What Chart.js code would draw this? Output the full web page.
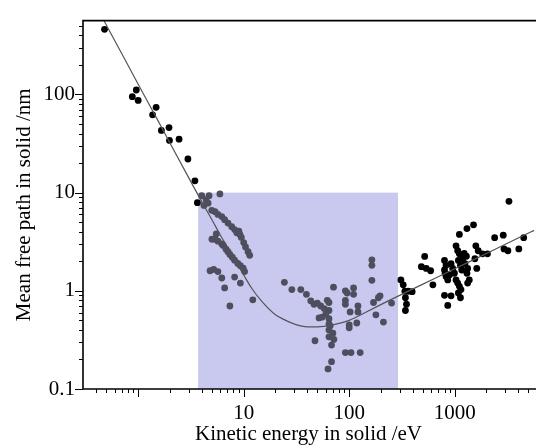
<!DOCTYPE html>
<html>
<head>
    <title>Mean free path vs kinetic energy</title>
    <script src="https://cdn.jsdelivr.net/npm/chart.js@4.4.0/dist/chart.umd.min.js"></script>
    <style>
        body {
            margin: 0;
            background: white;
        }
        .chart-box {
            width: 538px;
            height: 445px;
            position: relative;
        }
    </style>
</head>
<body>
    <div class="chart-box">
        <canvas id="mfpChart"></canvas>
    </div>

    <script>
        // measured points outside the shaded window (black)
        const blackEnergy = [0.48, 0.96, 0.88, 1.0, 1.48, 1.37, 1.96, 1.66, 1.98, 2.44, 2.96, 3.45, 3.64,
            309, 325, 337, 362, 395, 341, 349, 341,
            519, 483, 537, 591, 621,
            800, 828, 800, 811, 828, 859, 891,
            923, 957, 993, 1029, 1067,
            1029, 1067, 1107, 1083, 1133, 1165,
            1107, 1306, 1507,
            1189, 1251, 1325, 1306, 1374,
            1107, 1146, 1083, 1133,
            800, 923, 859, 1325, 1230, 1290,
            1585, 1669, 1832, 2042, 1618, 1552,
            2390, 2884, 2930, 3192, 4050, 3266, 4506];
        const blackPath = [460, 111, 95, 87, 74, 62, 46, 43, 34, 35, 22, 13.2, 7.9,
            1.29, 1.15, 0.99, 0.99, 0.98, 0.85, 0.73, 0.63,
            2.24, 1.76, 1.69, 1.6, 1.15,
            2.04, 1.82, 1.63, 1.51, 1.40, 1.29, 1.45,
            1.89, 1.69, 1.51, 1.29, 1.2,
            2.87, 2.56, 2.38, 2.04, 1.82, 1.63,
            3.75, 4.3, 4.7,
            2.12, 1.89, 1.69, 1.51, 1.29,
            1.11, 1.03, 0.95, 0.85,
            0.9, 0.89, 0.71, 1.2, 2.4, 2.25,
            2.87, 2.56, 2.38, 2.38, 1.69, 2.12,
            3.48, 3.69, 2.67, 2.56, 2.67, 8.15, 3.48];

        // measured points inside the shaded window (grey)
        const greyEnergy = [4.0, 4.4, 4.7, 5.95, 4.2, 4.6,
            4.98, 5.35, 5.7, 6.2, 6.6, 7.1, 7.7, 8.2, 8.6, 9.2, 9.5, 10, 10.4, 11, 11.4, 9.0,
            5.0, 5.35, 5.7, 6.2, 6.4, 6.8, 7.1, 7.4, 7.8, 8.2, 8.8, 9.3, 9.9, 10.2, 5.5,
            4.8, 5.2, 5.7, 6.2, 8.2, 6.6, 9.3, 12.2, 7.4,
            24.3, 28.6, 34.8, 39.3, 71, 92, 110, 164, 164, 164, 189,
            43.2, 46.4, 49.9, 53.7, 51.8, 55.6,
            64.3, 64.3, 64.3, 64.3, 64.3, 64.3, 60, 66, 70, 58, 62,
            71.5, 68, 47.4, 68, 63, 92, 104, 127,
            95.6, 110, 92, 92, 102, 100, 100, 121, 121, 118,
            170, 196, 179, 211, 252];
        const greyPath = [9.3, 8.5, 9.3, 9.7, 7.4, 7.8,
            6.6, 6.4, 6.0, 5.7, 5.3, 4.9, 4.5, 4.2, 3.9, 3.75, 3.5, 3.1, 2.8, 2.5, 2.3, 4.05,
            3.35, 3.35, 3.2, 3.0, 2.9, 2.65, 2.5, 2.35, 2.2, 2.05, 1.9, 1.8, 1.7, 1.57, 3.8,
            1.6, 1.65, 1.57, 1.35, 1.38, 1.07, 1.2, 0.81, 0.70,
            1.22, 1.03, 1.03, 0.92, 1.09, 1.0, 1.07, 2.07, 1.82, 1.28, 0.85,
            0.79, 0.73, 0.75, 0.70, 0.53, 0.54,
            0.76, 0.63, 0.52, 0.46, 0.40, 0.34, 0.58, 0.44, 0.37, 0.66, 0.80,
            0.32, 0.28, 0.31, 0.19, 0.16, 0.235, 0.235, 0.235,
            0.95, 0.92, 0.80, 0.73, 0.61, 0.45, 0.42, 0.70, 0.61, 0.47,
            0.76, 0.89, 0.57, 0.48, 0.75];

        // fitted "universal curve"
        const curveEnergy = [0.45, 0.7, 1, 1.5, 2, 3, 4, 5, 6, 7, 8, 10, 12, 15, 20, 25, 30, 40, 50, 70,
            100, 150, 235, 500, 1000, 2000, 4000, 6000];
        const curvePath = [627, 260, 127, 57, 32, 14.3, 8.1, 5.3, 3.7, 2.8, 2.2, 1.45, 1.05, 0.77, 0.57, 0.5,
            0.46, 0.43, 0.43, 0.45, 0.5, 0.62, 0.79, 1.17, 1.68, 2.4, 3.45, 4.25];

        // shaded energy window
        const shadeEnergy = [3.7, 290];
        const shadeTop = 10;

        const xRange = [0.308, 5640];
        const yRange = [0.1, 565];
        const xTickValues = [1, 10, 100, 1000];
        const xTickLabels = ['', '10', '100', '1000'];
        const yTickValues = [0.1, 1, 10, 100];
        const yTickLabels = ['0.1', '1', '10', '100'];

        const toPoints = (xs, ys) => xs.map((x, i) => ({x: x, y: ys[i]}));

        function minorTicks(min, max) {
            const out = [];
            for (let p = -2; p <= 4; p++) {
                for (let k = 1; k <= 9; k++) {
                    const v = k * Math.pow(10, p);
                    if (v >= min && v <= max) out.push({v: v, major: k === 1});
                }
            }
            return out;
        }

        const axesPlugin = {
            id: 'axesPlugin',
            beforeDatasetsDraw(chart) {
                const {ctx, scales: {x, y}} = chart;
                const left = x.getPixelForValue(shadeEnergy[0]);
                const right = x.getPixelForValue(shadeEnergy[1]);
                const top = y.getPixelForValue(shadeTop);
                const bottom = y.getPixelForValue(yRange[0]);
                ctx.save();
                ctx.fillStyle = '#c9c9f0';
                ctx.fillRect(left, top, right - left, bottom - top);
                ctx.restore();
            },
            afterDraw(chart) {
                const {ctx, chartArea: a, scales: {x, y}} = chart;
                ctx.save();
                ctx.strokeStyle = '#000';
                ctx.lineWidth = 1;
                ctx.beginPath();
                minorTicks(yRange[0], yRange[1]).forEach(t => {
                    const py = Math.round(y.getPixelForValue(t.v)) + 0.5;
                    ctx.moveTo(a.left, py);
                    ctx.lineTo(a.left - (t.major ? 8 : 4), py);
                });
                minorTicks(xRange[0], xRange[1]).forEach(t => {
                    const px = Math.round(x.getPixelForValue(t.v)) + 0.5;
                    ctx.moveTo(px, a.bottom);
                    ctx.lineTo(px, a.bottom + (t.major ? 8 : 4));
                });
                ctx.stroke();

                // frame: left, bottom, top
                ctx.lineWidth = 1.6;
                ctx.beginPath();
                ctx.moveTo(a.right + 2, a.top);
                ctx.lineTo(a.left, a.top);
                ctx.lineTo(a.left, a.bottom);
                ctx.lineTo(a.right + 2, a.bottom);
                ctx.stroke();
                ctx.restore();
            }
        };

        const serif = 'Liberation Serif';

        new Chart(document.getElementById('mfpChart'), {
            type: 'scatter',
            data: {
                datasets: [
                    {
                        label: 'fit',
                        type: 'line',
                        data: toPoints(curveEnergy, curvePath),
                        borderColor: '#555',
                        borderWidth: 1.2,
                        pointRadius: 0,
                        cubicInterpolationMode: 'monotone',
                        fill: false,
                        order: 0
                    },
                    {
                        label: 'window',
                        data: toPoints(greyEnergy, greyPath),
                        backgroundColor: '#4e4e5e',
                        borderWidth: 0,
                        pointRadius: 3.4,
                        order: 1
                    },
                    {
                        label: 'outside',
                        data: toPoints(blackEnergy, blackPath),
                        backgroundColor: '#000',
                        borderWidth: 0,
                        pointRadius: 3.4,
                        order: 1
                    }
                ]
            },
            options: {
                responsive: true,
                maintainAspectRatio: false,
                animation: false,
                events: [],
                layout: {
                    padding: {top: 10, right: 1, left: 0, bottom: 0}
                },
                plugins: {
                    legend: {display: false},
                    tooltip: {enabled: false}
                },
                scales: {
                    x: {
                        type: 'logarithmic',
                        min: xRange[0],
                        max: xRange[1],
                        grid: {display: false, drawTicks: false},
                        border: {display: false},
                        afterBuildTicks: s => { s.ticks = xTickValues.map(v => ({value: v})); },
                        afterFit: s => { s.height = 56; },
                        ticks: {
                            autoSkip: false,
                            maxRotation: 0,
                            padding: 12,
                            color: '#000',
                            font: {family: serif, size: 21},
                            callback: (v) => xTickLabels[xTickValues.indexOf(v)] ?? ''
                        },
                        title: {
                            display: true,
                            text: 'Kinetic energy in solid /eV',
                            color: '#000',
                            font: {family: serif, size: 21, lineHeight: 1},
                            padding: {top: 0, bottom: 0}
                        }
                    },
                    y: {
                        type: 'logarithmic',
                        min: yRange[0],
                        max: yRange[1],
                        grid: {display: false, drawTicks: false},
                        border: {display: false},
                        afterBuildTicks: s => { s.ticks = yTickValues.map(v => ({value: v})); },
                        afterFit: s => { s.width = 83; },
                        ticks: {
                            autoSkip: false,
                            padding: 8,
                            color: '#000',
                            font: {family: serif, size: 21},
                            callback: (v) => yTickLabels[yTickValues.indexOf(v)] ?? ''
                        },
                        title: {
                            display: true,
                            text: 'Mean free path in solid /nm',
                            color: '#000',
                            font: {family: serif, size: 21, lineHeight: 1},
                            padding: {top: 14, bottom: 0}
                        }
                    }
                }
            },
            plugins: [axesPlugin]
        });
    </script>
</body>
</html>
